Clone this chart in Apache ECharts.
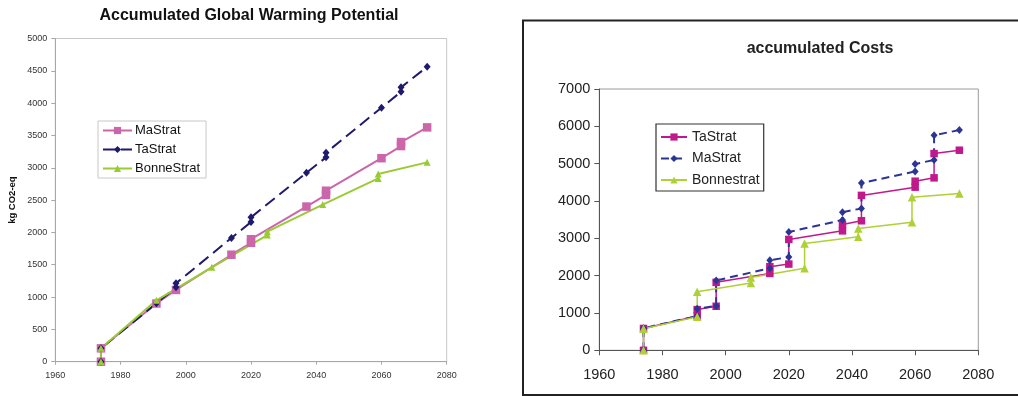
<!DOCTYPE html>
<html>
<head>
<meta charset="utf-8">
<script src="https://cdn.jsdelivr.net/npm/echarts@6/dist/echarts.min.js"></script>
<style>
html,body{margin:0;padding:0;background:#fff;}
#chart{width:1018px;height:396px;}
</style>
</head>
<body>
<div id="chart"></div>
<script>
// ---- Left chart: Accumulated Global Warming Potential (kg CO2-eq) ----
const gwpMaYears = [1974,1974,1991,1997,2014,2020,2020,2037,2043,2043,2060,2066,2066,2074];
const gwpMaValues = [0,207,900,1110,1655,1840,1895,2400,2580,2645,3148,3336,3398,3625];
const gwpTaYears = [1974,1974,1991,1997,1997,2014,2020,2020,2037,2043,2043,2060,2066,2066,2074];
const gwpTaValues = [0,207,903,1151,1212,1915,2161,2233,2923,3161,3232,3930,4176,4244,4562];
const gwpBonneYears = [1974,1974,1991,2008,2025,2025,2042,2059,2059,2074];
const gwpBonneValues = [0,207,950,1460,1959,2011,2430,2836,2903,3084];

// ---- Right chart: accumulated Costs ----
const costTaYears = [1974,1974,1991,1991,1997,1997,2014,2014,2020,2020,2037,2037,2043,2043,2060,2060,2066,2066,2074];
const costTaValues = [0,585,920,1090,1180,1820,2060,2240,2310,2970,3200,3370,3470,4150,4370,4530,4620,5270,5360];
const costMaYears = [1974,1974,1991,1991,1997,1997,2014,2014,2020,2020,2037,2037,2043,2043,2060,2060,2066,2066,2074];
const costMaValues = [0,590,920,1110,1190,1870,2200,2410,2500,3170,3490,3700,3800,4480,4790,4990,5100,5760,5900];
const costBonneYears = [1974,1974,1991,1991,2008,2008,2025,2025,2042,2042,2059,2059,2074];
const costBonneValues = [0,580,900,1570,1800,1950,2200,2860,3040,3260,3430,4100,4200];

const leftNames = ['MaStrat','TaStrat','BonneStrat'];
const rightNames = ['TaStrat','MaStrat','Bonnestrat'];
const leftTitle = 'Accumulated Global Warming Potential';
const rightTitle = 'accumulated Costs';
const leftYName = 'kg CO2-eq';

function zip(xs, ys){ return xs.map((x,i)=>[x, ys[i]]); }
// internal unique series keys (both charts share some names)
const leftKeys = leftNames.map(n => 'gwp:' + n);
const rightKeys = rightNames.map(n => 'cost:' + n);
const stripKey = k => k.split(':')[1];

const FONT = '"Liberation Sans", Arial, sans-serif';
const chart = echarts.init(document.getElementById('chart'), null, {renderer:'canvas'});

const cL = {ma:'#cc66aa', ta:'#1f1a6e', bo:'#99cc33'};
const cR = {ta:'#c0198c', ma:'#2b3593', bo:'#aed136'};
const plain = v => String(v);

chart.setOption({
  animation:false,
  backgroundColor:'#fff',
  title:[
    {text:leftTitle, left:244, top:3, textAlign:'center',
     textStyle:{fontFamily:FONT, fontSize:16, fontWeight:'bold', color:'#111'}},
    {text:rightTitle, left:815, top:36, textAlign:'center',
     textStyle:{fontFamily:FONT, fontSize:16, fontWeight:'bold', color:'#222'}}
  ],
  graphic:[
    {type:'rect', shape:{x:523, y:20.5, width:600, height:374.5},
     style:{fill:'none', stroke:'#222', lineWidth:2}, z:100}
  ],
  legend:[
    {data:leftKeys, formatter:stripKey, orient:'vertical', left:98, top:121,
     padding:[3,6,3,4], itemGap:6, itemWidth:29, itemHeight:9,
     backgroundColor:'#fff', borderColor:'#c8c8c8', borderWidth:1,
     textStyle:{fontFamily:FONT, fontSize:13, color:'#111', padding:[0,0,0,-2]}},
    {data:rightKeys, formatter:stripKey, orient:'vertical', left:656, top:124,
     padding:[6,4,4,4], itemGap:7.5, itemWidth:26, itemHeight:9,
     backgroundColor:'#fff', borderColor:'#333', borderWidth:1.2,
     textStyle:{fontFamily:FONT, fontSize:14, color:'#222'}}
  ],
  grid:[
    {left:55.3, top:38.5, width:391.4, height:323.2, show:true,
     borderColor:'#c8c8c8', borderWidth:1, backgroundColor:'transparent'},
    {left:599.3, top:89, width:379, height:261.3, show:true,
     borderColor:'#9a9a9a', borderWidth:1, backgroundColor:'transparent'}
  ],
  xAxis:[
    {type:'value', gridIndex:0, min:1960, max:2080, interval:20,
     axisLine:{show:true, onZero:false, lineStyle:{color:'#a8a8a8', width:1}},
     axisTick:{show:true, length:3, lineStyle:{color:'#a8a8a8'}},
     axisLabel:{fontFamily:FONT, fontSize:9, color:'#333', margin:9, formatter:plain},
     splitLine:{show:false}},
    {type:'value', gridIndex:1, min:1960, max:2080, interval:20,
     axisLine:{show:true, onZero:false, lineStyle:{color:'#555', width:1}},
     axisTick:{show:true, length:5, lineStyle:{color:'#555'}},
     axisLabel:{fontFamily:FONT, fontSize:14.5, color:'#222', margin:17, formatter:plain},
     splitLine:{show:false}}
  ],
  yAxis:[
    {type:'value', gridIndex:0, min:0, max:5000, interval:500,
     name:leftYName, nameLocation:'middle', nameGap:38, nameRotate:90,
     nameTextStyle:{fontFamily:FONT, fontSize:9.5, fontWeight:'bold', color:'#111'},
     axisLine:{show:true, lineStyle:{color:'#a8a8a8', width:1}},
     axisTick:{show:true, length:4, lineStyle:{color:'#a8a8a8'}},
     axisLabel:{fontFamily:FONT, fontSize:9, color:'#333', margin:8, formatter:plain},
     splitLine:{show:false}},
    {type:'value', gridIndex:1, min:0, max:7000, interval:1000,
     axisLine:{show:true, lineStyle:{color:'#555', width:1}},
     axisTick:{show:true, length:5, lineStyle:{color:'#555'}},
     axisLabel:{fontFamily:FONT, fontSize:14.5, color:'#222', margin:9, formatter:plain},
     splitLine:{show:false}}
  ],
  series:[
    {name:leftKeys[0], type:'line', xAxisIndex:0, yAxisIndex:0,
     data:zip(gwpMaYears, gwpMaValues), symbol:'rect', symbolSize:8.5,
     lineStyle:{color:cL.ma, width:2}, itemStyle:{color:cL.ma}, color:cL.ma},
    {name:leftKeys[1], type:'line', xAxisIndex:0, yAxisIndex:0,
     data:zip(gwpTaYears, gwpTaValues), symbol:'diamond', symbolSize:[7,8],
     lineStyle:{color:cL.ta, width:2, type:[12,6]}, itemStyle:{color:cL.ta}, color:cL.ta},
    {name:leftKeys[2], type:'line', xAxisIndex:0, yAxisIndex:0,
     data:zip(gwpBonneYears, gwpBonneValues), symbol:'triangle', symbolSize:7,
     lineStyle:{color:cL.bo, width:2}, itemStyle:{color:cL.bo}, color:cL.bo},

    {name:rightKeys[0], type:'line', xAxisIndex:1, yAxisIndex:1,
     data:zip(costTaYears, costTaValues), symbol:'rect', symbolSize:7.5,
     lineStyle:{color:cR.ta, width:1.5}, itemStyle:{color:cR.ta}, color:cR.ta},
    {name:rightKeys[1], type:'line', xAxisIndex:1, yAxisIndex:1,
     data:zip(costMaYears, costMaValues), symbol:'diamond', symbolSize:[7,8],
     lineStyle:{color:cR.ma, width:2, type:[8,5]}, itemStyle:{color:cR.ma}, color:cR.ma},
    {name:rightKeys[2], type:'line', xAxisIndex:1, yAxisIndex:1,
     data:zip(costBonneYears, costBonneValues), symbol:'triangle', symbolSize:8.5,
     lineStyle:{color:cR.bo, width:1.5}, itemStyle:{color:cR.bo}, color:cR.bo}
  ]
});
</script>
</body>
</html>
